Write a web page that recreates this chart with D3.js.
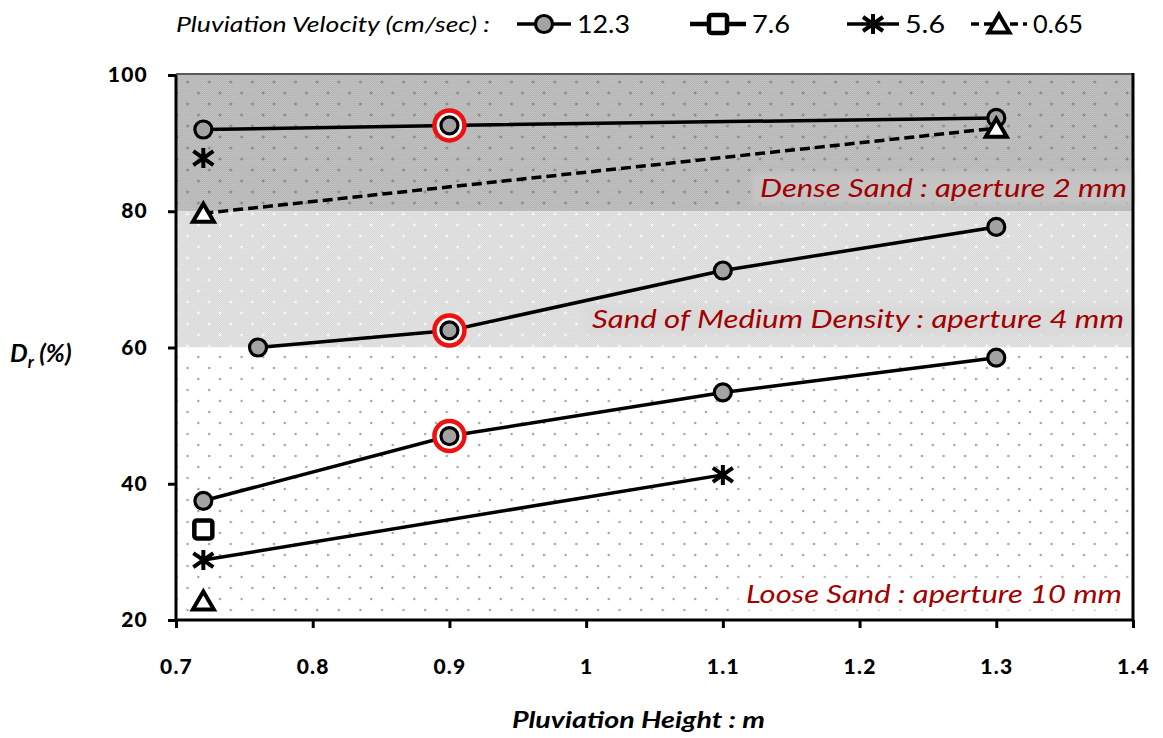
<!DOCTYPE html>
<html>
<head>
<meta charset="utf-8">
<script src="https://cdn.jsdelivr.net/npm/d3@7"></script>
<style>
  html, body { margin: 0; padding: 0; background: #fff; }
  svg { display: block; font-family: Lato, "Open Sans", sans-serif; }
</style>
</head>
<body>
<svg id="chart" width="1163" height="738"></svg>
<script>
// Pluviation velocity classes shown in the legend (cm/sec)
const velocities = ["12.3", "7.6", "5.6", "0.65"];

// 12.3 cm/sec, aperture 2 mm (dense)
const heightsDense = [0.72, 0.9, 1.3];
const drDense = [92.0, 92.6, 93.7];
// 12.3 cm/sec, aperture 4 mm (medium density)
const heightsMedium = [0.76, 0.9, 1.1, 1.3];
const drMedium = [60.0, 62.5, 71.3, 77.7];
// 12.3 cm/sec, aperture 10 mm (loose)
const heightsLoose = [0.72, 0.9, 1.1, 1.3];
const drLoose = [37.5, 47.0, 53.4, 58.5];

// 7.6 cm/sec
const heights76 = [0.72];
const dr76 = [33.3];

// 5.6 cm/sec
const heights56Line = [0.72, 1.1];
const dr56Line = [28.8, 41.3];
const heights56Single = [0.72];
const dr56Single = [87.8];

// 0.65 cm/sec
const heights065Line = [0.72, 1.3];
const dr065Line = [79.7, 92.2];
const heights065Single = [0.72];
const dr065Single = [22.8];

// Points ringed in red
const heightsRinged = [0.9, 0.9, 0.9];
const drRinged = [92.6, 62.5, 47.0];

// Density zones
const zoneBounds = [[80, 100], [60, 80], [20, 60]];
const zoneLabels = ["Dense Sand : aperture 2 mm", "Sand of Medium Density : aperture 4 mm", "Loose Sand : aperture 10 mm"];

// Axis ticks
const xTicks = [0.7, 0.8, 0.9, 1.0, 1.1, 1.2, 1.3, 1.4];
const yTicks = [20, 40, 60, 80, 100];

const svg = d3.select("#chart");
const plotLeft = 176, plotRight = 1133, plotTop = 75, plotBottom = 620;

const x = d3.scaleLinear().domain([0.7, 1.4]).range([plotLeft, plotRight]);
const y = d3.scaleLinear().domain([20, 100]).range([plotBottom, plotTop]);

// ---- fill patterns for the zones ----
const defs = svg.append("defs");

function checker(id, c1, c2) {
  const p = defs.append("pattern").attr("id", id).attr("patternUnits", "userSpaceOnUse")
    .attr("width", 2).attr("height", 2);
  p.append("rect").attr("width", 2).attr("height", 2).attr("fill", c1);
  p.append("rect").attr("width", 1).attr("height", 1).attr("fill", c2);
  p.append("rect").attr("x", 1).attr("y", 1).attr("width", 1).attr("height", 1).attr("fill", c2);
}
checker("chkDark", "#acacac", "#cacaca");
checker("chkLight", "#d4d4d4", "#e8e8e8");

function sprinkled(id, baseFill, markColor, kind) {
  const w = 21.6, h = 22;
  const p = defs.append("pattern").attr("id", id).attr("patternUnits", "userSpaceOnUse")
    .attr("width", w).attr("height", h);
  p.append("rect").attr("width", w).attr("height", h).attr("fill", baseFill);
  [[4, 5], [14.8, 16]].forEach(([cx, cy]) => {
    if (kind === "plus") {
      p.append("rect").attr("x", cx - 1.5).attr("y", cy - 0.5).attr("width", 3).attr("height", 1).attr("fill", markColor);
      p.append("rect").attr("x", cx - 0.5).attr("y", cy - 1.5).attr("width", 1).attr("height", 3).attr("fill", markColor);
    } else {
      p.append("circle").attr("cx", cx).attr("cy", cy).attr("r", 1.3).attr("fill", markColor);
    }
  });
}
sprinkled("patDense", "url(#chkDark)", "#7c7c7c", "plus");
sprinkled("patMedium", "url(#chkLight)", "#ffffff", "plus");
sprinkled("patLoose", "#ffffff", "#a8a8a8", "dot");

defs.append("filter").attr("id", "soft").attr("x", "-5%").attr("y", "-30%").attr("width", "110%").attr("height", "160%")
  .append("feGaussianBlur").attr("stdDeviation", 2.5);

const zoneFills = ["url(#patDense)", "url(#patMedium)", "url(#patLoose)"];
const zoneLabelBg = ["#c4c4c4", "#dadada", "#ffffff"];

svg.append("g").selectAll("rect").data(zoneBounds).join("rect")
  .attr("x", plotLeft).attr("width", plotRight - plotLeft)
  .attr("y", d => y(d[1])).attr("height", d => y(d[0]) - y(d[1]))
  .attr("fill", (d, i) => zoneFills[i]);

// zone labels with their backing panels
const labelLeft = [760, 592, 746];
const labelWidth = [367, 532, 376];
const labelBase = [197, 328, 603];
const labelG = svg.append("g");
zoneLabels.forEach((t, i) => {
  const txt = labelG.append("text")
    .attr("x", labelLeft[i]).attr("y", labelBase[i])
    .attr("font-style", "italic")
    .attr("font-size", 25)
    .attr("textLength", labelWidth[i]).attr("lengthAdjust", "spacingAndGlyphs")
    .attr("fill", "#a30000")
    .text(t);
  const bb = txt.node().getBBox();
  labelG.insert("rect", "text")
    .attr("x", labelLeft[i] - 8).attr("y", bb.y + 1).attr("width", plotRight - labelLeft[i] + 8).attr("height", bb.height + 2)
    .attr("fill", zoneLabelBg[i]).attr("filter", "url(#soft)");
});

// ---- axes ----
const yAxis = svg.append("g").attr("transform", `translate(${plotLeft},0)`)
  .call(d3.axisLeft(y).tickValues(yTicks).tickSize(8).tickPadding(20).tickFormat(d3.format("d")));
const xAxis = svg.append("g").attr("transform", `translate(0,${plotBottom})`)
  .call(d3.axisBottom(x).tickValues(xTicks).tickSize(8).tickPadding(31).tickFormat(d => String(+d.toFixed(1))));
[yAxis, xAxis].forEach(g => {
  g.select(".domain").attr("stroke", "#000").attr("stroke-width", 3);
  g.selectAll(".tick line").attr("stroke", "#000").attr("stroke-width", 3);
  g.selectAll(".tick text").attr("fill", "#000").attr("font-size", 21).attr("font-weight", "900")
    .attr("font-family", "Lato, sans-serif").attr("letter-spacing", 1.2);
});
yAxis.select(".domain").attr("d", `M0,${plotBottom}V${plotTop}`);
xAxis.select(".domain").attr("d", `M${plotLeft},0H${plotRight}`);

// top and right frame
svg.append("line").attr("x1", plotLeft).attr("x2", plotRight).attr("y1", plotTop - 1).attr("y2", plotTop - 1)
  .attr("stroke", "#5a5a5a").attr("stroke-width", 2);
svg.append("line").attr("x1", plotRight).attr("x2", plotRight).attr("y1", plotTop - 2).attr("y2", plotBottom)
  .attr("stroke", "#000").attr("stroke-width", 3);

// axis titles
svg.append("text").attr("x", 512).attr("y", 728)
  .attr("font-weight", "bold").attr("font-style", "italic").attr("font-size", 23)
  .attr("textLength", 253).attr("lengthAdjust", "spacingAndGlyphs")
  .text("Pluviation Height : m");
const yt = svg.append("text").attr("x", 10).attr("y", 362)
  .attr("font-weight", "bold").attr("font-style", "italic").attr("font-size", 25);
yt.append("tspan").text("D");
yt.append("tspan").attr("dy", 6).attr("font-size", 17).text("r");
yt.append("tspan").attr("dy", -6).text(" (%)");

// ---- markers ----
function marker(g, kind, cx, cy) {
  if (kind === "circle") {
    g.append("circle").attr("cx", cx).attr("cy", cy).attr("r", 8.5)
      .attr("fill", "#a3a3a3").attr("stroke", "#000").attr("stroke-width", 3.2);
  } else if (kind === "square") {
    g.append("rect").attr("x", cx - 9).attr("y", cy - 9).attr("width", 18).attr("height", 18).attr("rx", 2.5)
      .attr("fill", "#fff").attr("stroke", "#000").attr("stroke-width", 4.5);
  } else if (kind === "star") {
    const s = 10;
    g.append("path").attr("d", `M${cx},${cy - s}V${cy + s}M${cx - s},${cy - s * 0.7}L${cx + s},${cy + s * 0.7}M${cx - s},${cy + s * 0.7}L${cx + s},${cy - s * 0.7}`)
      .attr("stroke", "#000").attr("stroke-width", 4).attr("fill", "none");
  } else if (kind === "triangle") {
    g.append("path").attr("d", `M${cx},${cy - 9.5}L${cx + 10.5},${cy + 8.5}L${cx - 10.5},${cy + 8.5}Z`)
      .attr("fill", "#fff").attr("stroke", "#000").attr("stroke-width", 4).attr("stroke-linejoin", "miter");
  }
}

const lineGen = d3.line().x(d => x(d[0])).y(d => y(d[1]));
const zip = (a, b) => a.map((v, i) => [v, b[i]]);

const plot = svg.append("g");
const curves = [
  { pts: zip(heightsDense, drDense), kind: "circle", dash: null },
  { pts: zip(heightsMedium, drMedium), kind: "circle", dash: null },
  { pts: zip(heightsLoose, drLoose), kind: "circle", dash: null },
  { pts: zip(heights56Line, dr56Line), kind: "star", dash: null },
  { pts: zip(heights065Line, dr065Line), kind: "triangle", dash: "10,5" }
];
curves.forEach(c => {
  plot.append("path").attr("d", lineGen(c.pts)).attr("fill", "none")
    .attr("stroke", "#000").attr("stroke-width", 3.5).attr("stroke-dasharray", c.dash);
});

// red rings
zip(heightsRinged, drRinged).forEach(([h, d]) => {
  plot.append("circle").attr("cx", x(h)).attr("cy", y(d)).attr("r", 15)
    .attr("fill", "#fff").attr("stroke", "#ee1111").attr("stroke-width", 4.5);
});

curves.forEach(c => c.pts.forEach(([h, d]) => marker(plot, c.kind, x(h), y(d))));
zip(heights76, dr76).forEach(([h, d]) => marker(plot, "square", x(h), y(d)));
zip(heights56Single, dr56Single).forEach(([h, d]) => marker(plot, "star", x(h), y(d)));
zip(heights065Single, dr065Single).forEach(([h, d]) => marker(plot, "triangle", x(h), y(d)));

// ---- legend ----
const legend = svg.append("g");
legend.append("text").attr("x", 176).attr("y", 32).attr("font-style", "italic").attr("font-size", 22)
  .attr("textLength", 314).attr("lengthAdjust", "spacingAndGlyphs")
  .text("Pluviation Velocity (cm/sec)  :");
const legKinds = ["circle", "square", "star", "triangle"];
const legStart = [517, 690, 847, 971];
const legWidth = [54, 56, 52, 56];
const legTextWidth = [53, 38, 40, 50];
velocities.forEach((v, i) => {
  const x0 = legStart[i], x1 = x0 + legWidth[i];
  legend.append("line").attr("x1", x0).attr("x2", x1).attr("y1", 24).attr("y2", 24)
    .attr("stroke", "#000").attr("stroke-width", i === 1 ? 4.5 : 3.5)
    .attr("stroke-dasharray", i === 3 ? "8,5" : null);
  marker(legend, legKinds[i], (x0 + x1) / 2, 24);
  legend.append("text").attr("x", x1 + 6).attr("y", 33).attr("font-size", 25)
    .attr("textLength", legTextWidth[i]).attr("lengthAdjust", "spacingAndGlyphs").text(v);
});
</script>
</body>
</html>
